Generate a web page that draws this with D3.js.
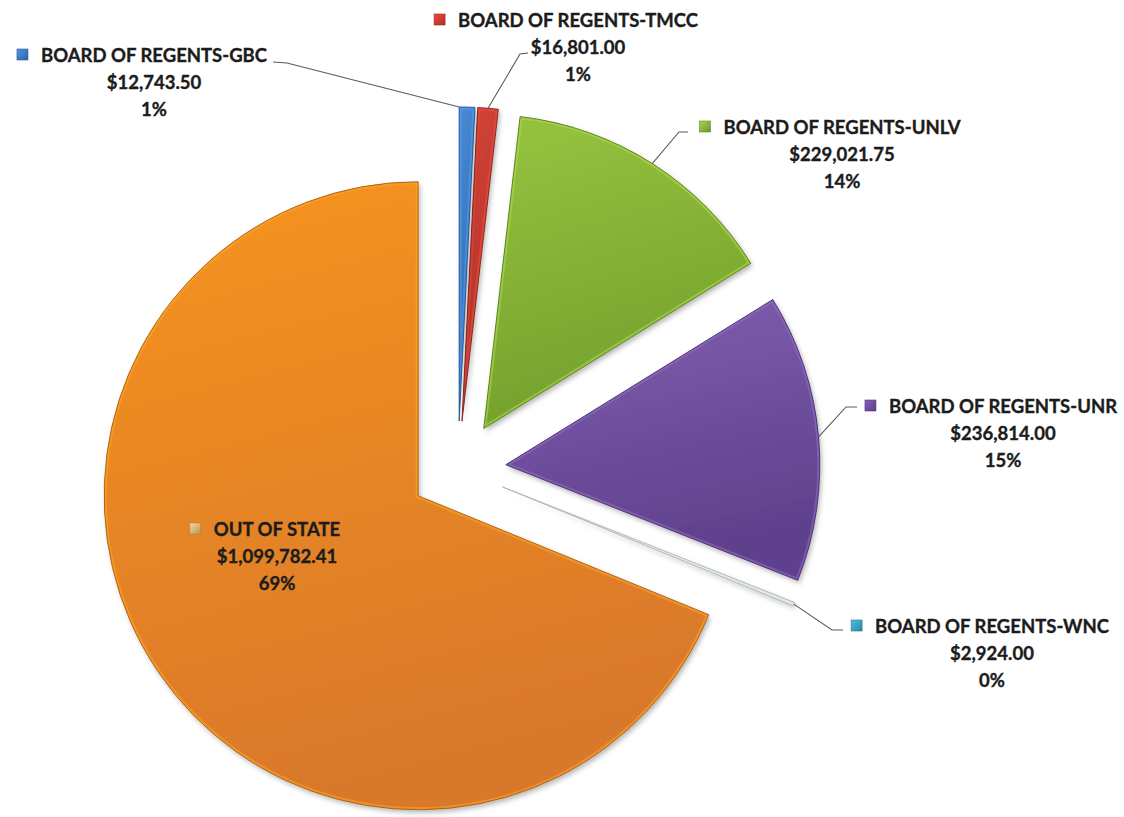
<!DOCTYPE html>
<html><head><meta charset="utf-8">
<script src="https://cdn.jsdelivr.net/npm/d3@7"></script>
<style>body{margin:0;background:#fff} svg{display:block}</style>
</head><body>
<svg id="chart" width="1124" height="817"></svg>
<script>
// ---- data ----
const categories = ["BOARD OF REGENTS-GBC","BOARD OF REGENTS-TMCC","BOARD OF REGENTS-UNLV","BOARD OF REGENTS-UNR","BOARD OF REGENTS-WNC","OUT OF STATE"];
const amounts = [12743.50, 16801.00, 229021.75, 236814.00, 2924.00, 1099782.41];

// ---- styles ----
const colorTop    = ["#4a8ad6","#d4453a","#97c43f","#8060b0","#dfe6ea","#f7941e"];
const colorBottom = ["#2f68ad","#b02e25","#74a02d","#5f408c","#c3ccd1","#d8782b"];
const edgeColor   = ["#24508a","#85231c","#58781f","#45306a","#a9b3b8","#a85a1c"];
const keyColor    = ["#3c78c4","#c83a30","#86b03a","#6d4c9c","#3a9cc0","#d9b070"];

// ---- layout (label placement, not data) ----
const W = 1124, H = 817;
const cx = 458, cy = 469, R = 314, explode = 48;
const labelLayout = {
  "BOARD OF REGENTS-GBC":  {x:154, y:62,  leader:[[273,62],[287,63]], anchor:0.0},
  "BOARD OF REGENTS-TMCC": {x:578, y:27,  leader:[[528,53],[520,54]], anchor:0.5},
  "BOARD OF REGENTS-UNLV": {x:842, y:134, leader:[[688,132],[679,132]], anchor:0.5},
  "BOARD OF REGENTS-UNR":  {x:1003,y:413, leader:[[857,407],[846,407]], anchor:0.5},
  "BOARD OF REGENTS-WNC":  {x:992, y:633, leader:[[843,630],[832,630]], anchor:0.5},
  "OUT OF STATE":          {x:277, y:536, leader:null, anchor:0.5}
};
const lineGap = 27;

const total = d3.sum(amounts);
const rows = categories.map((c,i)=>({cat:c, amount:amounts[i], i}));
const fmtMoney = v => "$" + d3.format(",.2f")(v);
const fmtPct = d3.format(".0%");

const svg = d3.select("#chart");
const defs = svg.append("defs");
defs.append("filter").attr("id","sh").attr("x","-20%").attr("y","-20%").attr("width","140%").attr("height","140%")
  .append("feDropShadow").attr("dx",2).attr("dy",3).attr("stdDeviation",2.5)
  .attr("flood-color","#000").attr("flood-opacity",0.28);
rows.forEach(r=>{
  const g = defs.append("linearGradient").attr("id","g"+r.i).attr("x1",0).attr("y1",0).attr("x2",0.25).attr("y2",1);
  g.append("stop").attr("offset","0%").attr("stop-color",colorTop[r.i]);
  g.append("stop").attr("offset","100%").attr("stop-color",colorBottom[r.i]);
  const k = defs.append("linearGradient").attr("id","k"+r.i).attr("x1",0).attr("y1",0).attr("x2",1).attr("y2",1);
  k.append("stop").attr("offset","0%").attr("stop-color",d3.color(keyColor[r.i]).brighter(0.6));
  k.append("stop").attr("offset","100%").attr("stop-color",d3.color(keyColor[r.i]).darker(0.5));
});

const pie = d3.pie().sort(null).value(d=>d.amount).startAngle(0).endAngle(2*Math.PI);
const arcs = pie(rows);
const arc = d3.arc().innerRadius(0).outerRadius(R);

const gPie = svg.append("g").attr("transform",`translate(${cx},${cy})`);
const order = arcs.slice().sort((a,b)=>b.value-a.value);
order.forEach(a=>{
  const mid = (a.startAngle+a.endAngle)/2;
  const ox = explode*Math.sin(mid), oy = -explode*Math.cos(mid);
  a.ox = ox; a.oy = oy;
  const g = gPie.append("g").attr("transform",`translate(${ox},${oy})`);
  const p = arc(a);
  defs.append("clipPath").attr("id","c"+a.data.i).append("path").attr("d",p);
  g.append("path").attr("d",p).attr("fill",`url(#g${a.data.i})`).attr("filter","url(#sh)");
  g.append("path").attr("d",p).attr("fill","none")
    .attr("stroke",d3.color(colorTop[a.data.i]).brighter(0.35)).attr("stroke-width",5).attr("stroke-opacity",0.55)
    .attr("clip-path",`url(#c${a.data.i})`);
  g.append("path").attr("d",p).attr("fill","none")
    .attr("stroke",edgeColor[a.data.i]).attr("stroke-width",0.9).attr("stroke-linejoin","round");
});

// leader lines
arcs.forEach(a=>{
  const L = labelLayout[a.data.cat];
  if(!L.leader) return;
  const ang = a.startAngle + (a.endAngle-a.startAngle)*L.anchor;
  const ex = cx + a.ox + R*Math.sin(ang), ey = cy + a.oy - R*Math.cos(ang);
  const pts = L.leader.concat([[ex,ey]]);
  svg.append("path").attr("d",d3.line()(pts)).attr("fill","none")
    .attr("stroke","#5a5a5a").attr("stroke-width",1.1);
});

// labels
const font = "Lato, 'Open Sans', sans-serif";
arcs.forEach(a=>{
  const L = labelLayout[a.data.cat];
  const lines = [a.data.cat, fmtMoney(a.data.amount), fmtPct(a.data.amount/total)];
  const g = svg.append("g").attr("font-family",font).attr("font-weight","bold")
    .attr("font-size",18.5).attr("fill","#1c1c1c").attr("stroke","#1c1c1c").attr("stroke-width",0.35)
    .attr("text-anchor","middle");
  let firstW = 0;
  lines.forEach((t,j)=>{
    const tx = g.append("text").attr("x",L.x).attr("y",L.y + j*lineGap).text(t);
    if(j===0) firstW = tx.node().getComputedTextLength();
  });
  const kx = L.x - firstW/2 - 24;
  g.append("rect").attr("x",kx).attr("y",L.y-13).attr("width",11).attr("height",11)
    .attr("fill",`url(#k${a.data.i})`).attr("stroke",d3.color(keyColor[a.data.i]).darker(0.8)).attr("stroke-width",0.6);
});
</script>
</body></html>
